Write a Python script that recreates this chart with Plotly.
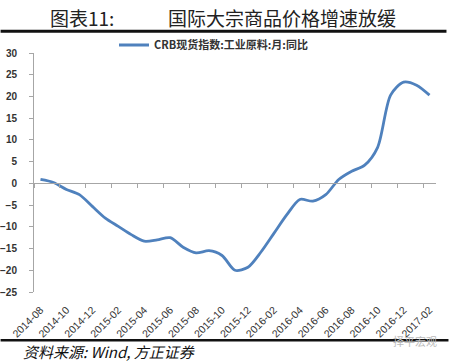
import plotly.graph_objects as go

months = ["2014-08","2014-09","2014-10","2014-11","2014-12","2015-01","2015-02","2015-03",
          "2015-04","2015-05","2015-06","2015-07","2015-08","2015-09","2015-10","2015-11",
          "2015-12","2016-01","2016-02","2016-03","2016-04","2016-05","2016-06","2016-07",
          "2016-08","2016-09","2016-10","2016-11","2016-12","2017-01","2017-02"]
crb_yoy = [0.9, 0.2, -1.4, -2.6, -5.3, -8.0, -9.9, -11.8,
           -13.3, -13.0, -12.5, -14.7, -16.0, -15.5, -16.6, -20.0,
           -19.3, -15.8, -11.5, -7.2, -3.7, -4.1, -2.6, 0.9,
           2.8, 4.2, 8.3, 20.3, 23.3, 22.6, 20.3]
series_name = "CRB现货指数:工业原料:月:同比"
y_ticks = [30, 25, 20, 15, 10, 5, 0, -5, -10, -15, -20, -25]

idx = list(range(len(months)))
label_idx = idx[::2]
label_txt = months[::2]
minor_ticks = [i + 1.5 for i in range(-2, len(months) - 2, 2)]

W, H = 449, 361
L, R, T, B = 33.5, 12.5, 52.7, 69.3

fig = go.Figure()
fig.add_trace(go.Scatter(
    x=idx, y=crb_yoy, mode="lines", name=series_name,
    line=dict(color="#4f81bd", width=2.8, shape="spline", smoothing=0.8),
    showlegend=True))
# invisible trace for the zero-line axis
fig.add_trace(go.Scatter(x=[idx[0], idx[-1]], y=[0, 0], xaxis="x2", mode="lines",
                         line=dict(width=0), showlegend=False, hoverinfo="skip"))

axis_col = "#a6a6a6"
fig.update_layout(
    width=W, height=H,
    margin=dict(l=L, r=R, t=T, b=B, pad=0, autoexpand=False),
    paper_bgcolor="white", plot_bgcolor="white",
    font=dict(family="Liberation Sans, Arial, sans-serif", color="#333"),
    showlegend=True,
    legend=dict(orientation="h", xref="container", yref="container",
                x=114 / W, xanchor="left",
                y=1 - 45 / H, yanchor="middle",
                font=dict(family="Noto Sans CJK SC", size=11, color="#333", weight="bold"),
                itemwidth=30, bgcolor="rgba(0,0,0,0)", borderwidth=0),
    xaxis=dict(range=[-0.5, 30.5], tickmode="array", tickvals=label_idx, ticktext=label_txt,
               tickangle=-45, showline=False, ticks="", showgrid=False, zeroline=False,
               tickfont=dict(size=10.5, color="#333"), ticklabelstandoff=9, automargin=False),
    xaxis2=dict(range=[-0.5, 30.5], overlaying="x", anchor="free",
                position=25 / 55, side="bottom", showline=True, linecolor=axis_col,
                linewidth=1, ticks="outside", ticklen=4, tickcolor=axis_col,
                tickmode="array", tickvals=minor_ticks, showticklabels=False,
                showgrid=False, zeroline=False, automargin=False),
    yaxis=dict(range=[-25, 30], tickmode="array", tickvals=y_ticks,
               showline=True, linecolor=axis_col, linewidth=1, ticks="outside",
               ticklen=4, tickcolor=axis_col, showgrid=False, zeroline=False,
               tickfont=dict(size=10, color="#333", weight="bold"), ticklabelstandoff=10,
               automargin=False),
)

def px_to_paper_y(py):
    return 1 - (py - T) / (H - T - B)

def px_to_paper_x(px):
    return (px - L) / (W - L - R)

# Title annotations
fig.add_annotation(text="图表11:", xref="paper", yref="paper",
                   x=px_to_paper_x(48), y=px_to_paper_y(17),
                   xanchor="left", yanchor="middle", showarrow=False,
                   font=dict(family="Noto Sans CJK SC", size=19, color="#222"))
fig.add_annotation(text="国际大宗商品价格增速放缓", xref="paper", yref="paper",
                   x=px_to_paper_x(166), y=px_to_paper_y(17),
                   xanchor="left", yanchor="middle", showarrow=False,
                   font=dict(family="Noto Sans CJK SC", size=19, color="#222"))
# Source
fig.add_annotation(text="<i>资料来源: Wind, 方正证券</i>", xref="paper", yref="paper",
                   x=px_to_paper_x(20), y=px_to_paper_y(351),
                   xanchor="left", yanchor="middle", showarrow=False,
                   font=dict(family="Noto Sans CJK SC", size=15, color="#111"))
# Watermark
fig.add_annotation(text="择平宏观", xref="paper", yref="paper",
                   x=px_to_paper_x(391), y=px_to_paper_y(341),
                   xanchor="left", yanchor="middle", showarrow=False,
                   font=dict(family="Noto Sans CJK SC", size=11, color="#bbbbbb"))

# Horizontal rules
fig.add_shape(type="line", xref="paper", yref="paper",
              x0=px_to_paper_x(0), x1=px_to_paper_x(447),
              y0=px_to_paper_y(31), y1=px_to_paper_y(31),
              line=dict(color="#111", width=3))
fig.add_shape(type="line", xref="paper", yref="paper",
              x0=px_to_paper_x(0), x1=px_to_paper_x(449),
              y0=px_to_paper_y(340), y1=px_to_paper_y(340),
              line=dict(color="#111", width=2.5))

fig.write_html("out.html", config={"displayModeBar": False},
               post_script="document.body.style.margin='0';document.body.style.overflow='hidden';")
